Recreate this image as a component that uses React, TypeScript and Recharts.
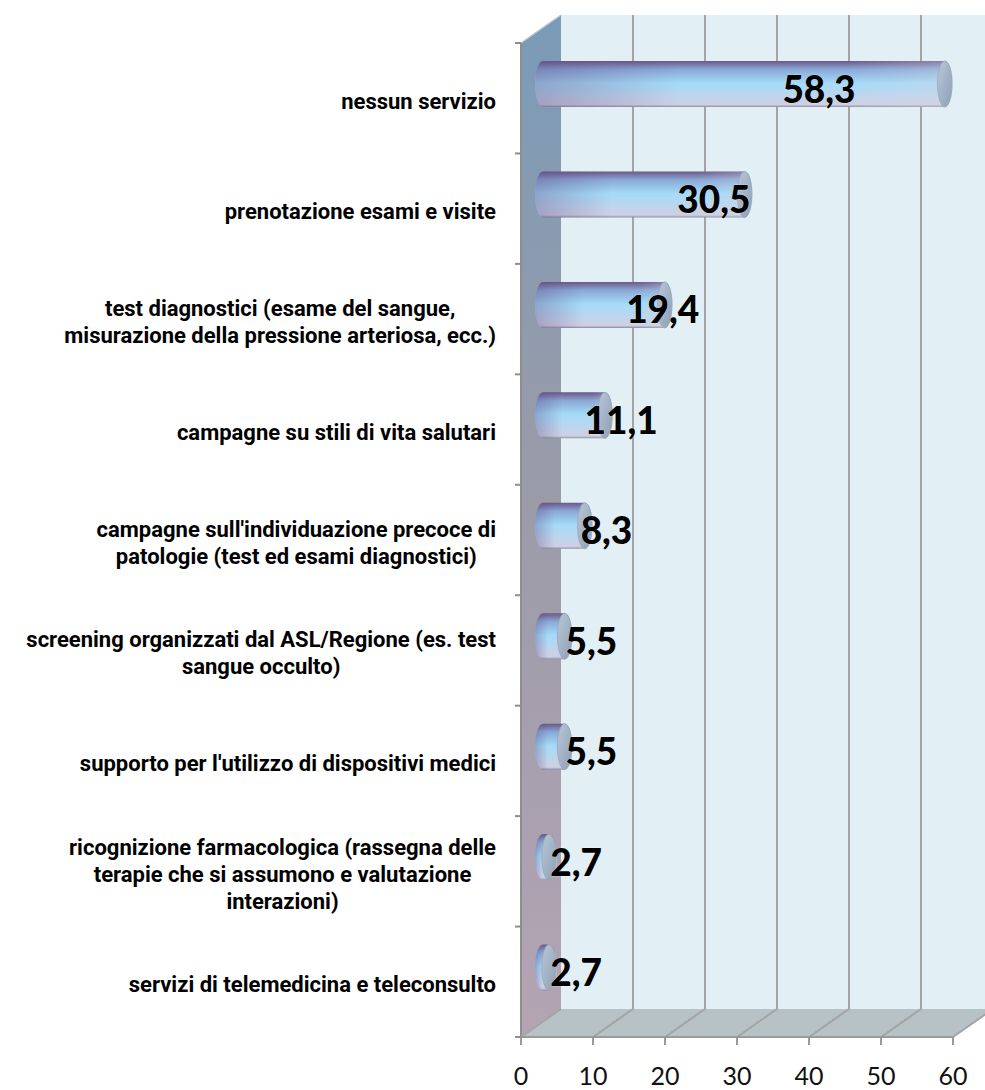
import React from 'react'
import { BarChart, Bar, XAxis, YAxis, CartesianGrid, LabelList } from 'recharts'

const categories = [
  'nessun servizio',
  'prenotazione esami e visite',
  'test diagnostici (esame del sangue,\nmisurazione della pressione arteriosa, ecc.)',
  'campagne su stili di vita salutari',
  "campagne sull'individuazione precoce di\npatologie (test ed esami diagnostici)",
  'screening organizzati dal ASL/Regione (es. test\nsangue occulto)',
  "supporto per l'utilizzo di dispositivi medici",
  'ricognizione farmacologica (rassegna delle\nterapie che si assumono e valutazione\ninterazioni)',
  'servizi di telemedicina e teleconsulto',
]
const values = [58.3, 30.5, 19.4, 11.1, 8.3, 5.5, 5.5, 2.7, 2.7]
const xTicks = [0, 10, 20, 30, 40, 50, 60]

const W = 985
const H = 1090
const PL = 521
const PT = 43
const PR = 953
const PB = 1037
const DX = 40
const DY = -28
const Y_AXIS_W = 510
const X_AXIS_H = 45
const LABEL_RIGHT = 496
const CAT_FONT = 'Roboto, sans-serif'
const CAT_SIZE = 22

const data = categories.map((name, i) => ({ name, value: values[i] }))

let ctx: CanvasRenderingContext2D | null = null
function measure(text: string, font: string) {
  if (!ctx) ctx = document.createElement('canvas').getContext('2d')
  if (!ctx) return text.length * 10
  ctx.font = font
  return ctx.measureText(text).width
}

// walls + floor of the 3d box, drawn with the first grid line so they sit under everything
function Walls() {
  return (
    <g>
      <defs>
        <linearGradient id="leftWall" x1="0" y1="0" x2="0" y2="1">
          <stop offset="0" stopColor="#7a9bb8" />
          <stop offset="0.45" stopColor="#9a9ba8" />
          <stop offset="1" stopColor="#b4a4b4" />
        </linearGradient>
        <linearGradient id="cylBody" x1="0" y1="0" x2="0" y2="1">
          <stop offset="0" stopColor="#6a5886" />
          <stop offset="0.18" stopColor="#8aa8d6" />
          <stop offset="0.48" stopColor="#a4dbf8" />
          <stop offset="0.8" stopColor="#c2d4ec" />
          <stop offset="0.95" stopColor="#cfcfe0" />
          <stop offset="1" stopColor="#8c90a8" />
        </linearGradient>
        <linearGradient id="cylShade" x1="0" y1="0" x2="1" y2="0">
          <stop offset="0" stopColor="#5a4680" stopOpacity="0.35" />
          <stop offset="0.35" stopColor="#5a4680" stopOpacity="0" />
          <stop offset="0.75" stopColor="#d8d8e4" stopOpacity="0" />
          <stop offset="1" stopColor="#d8d8e4" stopOpacity="0.35" />
        </linearGradient>
        <linearGradient id="cylCap" x1="0" y1="0" x2="1" y2="1">
          <stop offset="0" stopColor="#b8c8d8" />
          <stop offset="1" stopColor="#8e9fb4" />
        </linearGradient>
      </defs>
      <polygon
        points={`${PL + DX},${PT + DY} ${W + 20},${PT + DY} ${W + 20},${PB + DY} ${PL + DX},${PB + DY}`}
        fill="#e2f0f6"
      />
      <polygon
        points={`${PL},${PB} ${PR},${PB} ${PR + DX},${PB + DY} ${PL + DX},${PB + DY}`}
        fill="#b6c2c6"
      />
      <polygon
        points={`${PL},${PT} ${PL + DX},${PT + DY} ${PL + DX},${PB + DY} ${PL},${PB}`}
        fill="url(#leftWall)"
      />
      <line x1={PL} y1={PT} x2={PL + DX} y2={PT + DY} stroke="#b8c4cc" strokeWidth={1.5} />
      <line x1={PL} y1={PT} x2={PL} y2={PB} stroke="#8e8e8e" strokeWidth={2} />
    </g>
  )
}

function gridLine(props: any) {
  const { x1, y1, y2, key } = props
  const first = x1 <= PL + 1
  return (
    <g key={key}>
      {first && <Walls />}
      <line x1={x1} y1={y2} x2={x1 + DX} y2={y2 + DY} stroke="#a4a4a4" strokeWidth={2} />
      {!first && (
        <line x1={x1 + DX} y1={y1 + DY} x2={x1 + DX} y2={y2 + DY} stroke="#a4a4a4" strokeWidth={2} />
      )}
    </g>
  )
}

function CategoryTick(props: any) {
  const { y, payload, index } = props
  const font = `bold ${CAT_SIZE}px ${CAT_FONT}`
  const lines = String(payload.value).split('\n')
  const maxW = Math.max(...lines.map((l) => measure(l, font)))
  const cx = LABEL_RIGHT - maxW / 2
  const lineH = 27
  const y0 = y + 3 - ((lines.length - 1) * lineH) / 2
  const band = (PB - PT) / categories.length
  return (
    <g>
      <line x1={PL - 6} y1={y - band / 2} x2={PL} y2={y - band / 2} stroke="#8e8e8e" strokeWidth={2} />
      {index === categories.length - 1 && (
        <line x1={PL - 6} y1={y + band / 2} x2={PL} y2={y + band / 2} stroke="#8e8e8e" strokeWidth={2} />
      )}
      <text textAnchor="middle" fontFamily={CAT_FONT} fontWeight={700} fontSize={CAT_SIZE} fill="#000">
        {lines.map((l, i) => (
          <tspan key={i} x={cx} y={y0 + i * lineH} dominantBaseline="central">
            {l}
          </tspan>
        ))}
      </text>
    </g>
  )
}

function XTick(props: any) {
  const { x, payload } = props
  return (
    <text x={x} y={PB + 38} textAnchor="middle" dominantBaseline="central" fontFamily="Lato, sans-serif" fontSize={25} fill="#111">
      {payload.value}
    </text>
  )
}

function Cylinder(props: any) {
  const { x, y, width, height } = props
  const top = y + DY / 2
  const bottom = top + height
  const rx = 8
  const ry = height / 2
  const xl = x + 22
  const xr = Math.max(x + width + 4, xl + 6)
  const d = `M ${xl} ${top} L ${xr} ${top} A ${rx} ${ry} 0 0 1 ${xr} ${bottom} L ${xl} ${bottom} A ${rx} ${ry} 0 0 1 ${xl} ${top} Z`
  return (
    <g>
      <path d={d} fill="url(#cylBody)" />
      <path d={d} fill="url(#cylShade)" />
      <ellipse cx={xr} cy={top + ry} rx={rx * 0.9} ry={ry} fill="url(#cylCap)" stroke="#9aa6b8" strokeWidth={0.8} />
    </g>
  )
}

function ValueLabel(props: any) {
  const { x, y, width, height, value } = props
  const w = Math.max(Number(width) || 0, 0)
  const cx = x + 40 + 0.785 * w - 0.000406 * w * w
  const cy = y + height / 2 + DY / 2 + 4
  return (
    <text
      x={cx}
      y={cy}
      textAnchor="middle"
      dominantBaseline="central"
      fontFamily="Lato, sans-serif"
      fontWeight={900}
      fontSize={37}
      fill="#000"
      stroke="#ffffff"
      strokeOpacity={0.35}
      strokeWidth={1}
      paintOrder="stroke"
    >
      {String(value).replace('.', ',')}
    </text>
  )
}

export default function App() {
  return (
    <div style={{ width: W, height: H, background: '#fff' }}>
      <style>{'body{margin:0}'}</style>
      <BarChart
        width={W}
        height={H}
        data={data}
        layout="vertical"
        margin={{ top: PT, right: W - PR, bottom: H - PB - X_AXIS_H, left: PL - Y_AXIS_W }}
      >
        <CartesianGrid horizontal={false} vertical={gridLine} />
        <XAxis
          type="number"
          domain={[0, 60]}
          ticks={xTicks}
          interval={0}
          height={X_AXIS_H}
          tickSize={8}
          axisLine={{ stroke: '#9a9a9a', strokeWidth: 2 }}
          tickLine={{ stroke: '#9a9a9a', strokeWidth: 2 }}
          tick={<XTick />}
        />
        <YAxis
          type="category"
          dataKey="name"
          width={Y_AXIS_W}
          interval={0}
          axisLine={false}
          tickLine={false}
          tick={<CategoryTick />}
        />
        <Bar dataKey="value" barSize={46} shape={<Cylinder />} isAnimationActive={false}>
          <LabelList dataKey="value" content={<ValueLabel />} />
        </Bar>
      </BarChart>
    </div>
  )
}
